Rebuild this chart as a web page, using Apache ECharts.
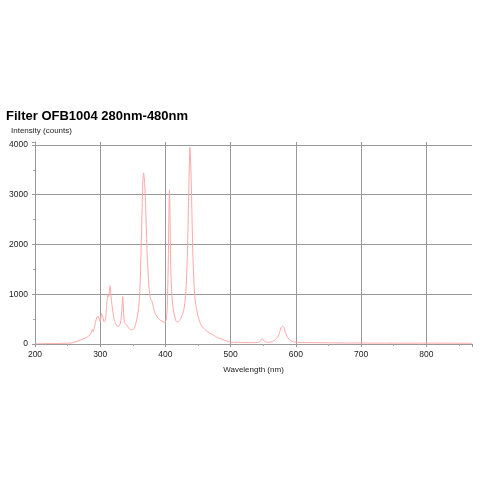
<!DOCTYPE html>
<html>
<head>
<meta charset="utf-8">
<script src="https://cdn.jsdelivr.net/npm/echarts@6/dist/echarts.min.js"></script>
<style>html,body{margin:0;padding:0;background:#fff}#c{width:480px;height:480px}</style>
</head>
<body>
<div id="c"></div>
<script>
const titleText = "Filter OFB1004 280nm-480nm";
const yAxisName = "Intensity (counts)";
const xAxisName = "Wavelength (nm)";
const xTicks = [200, 300, 400, 500, 600, 700, 800];
const yTicks = [0, 1000, 2000, 3000, 4000];
const wavelengths = [200,210,220,230,240,250,255,260,265,270,275,280,284,286,288,289,291,293,295,297,299,300,302,304,306,308,310,312,313,315,317,319,321,323,325,327,329,331,333,334.5,336,337,339,341,343,345,348,351,353,355,357,359,361,362.5,364,365.5,366.5,367.5,369,370.5,372,374,376,378,379.5,381,384,388,392,396,399.5,401.5,403,404.5,405.5,406.2,407,408,409.5,411,413,416,419,422,425,428,430,432,434,435.8,437.5,439,440.5,442,443.5,445,447,450,453,456,460,464,468,472,477,482,487,492,497,502,510,520,530,540,545,548,550,553,558,563,568,572,575,577,579.5,581.5,584,587,591,596,605,620,640,660,680,700,720,740,760,780,800,820,840,860,870];
const intensities = [5,5,8,10,12,15,20,35,55,80,110,140,180,230,290,250,330,450,540,560,470,450,610,540,440,480,800,1000,950,1170,900,680,520,430,380,350,360,420,650,950,600,430,400,380,330,300,285,295,340,440,560,720,1150,1800,2600,3300,3440,3350,3000,2400,1800,1300,980,880,860,760,620,530,480,450,430,520,800,1800,2800,3100,2600,1600,1050,800,620,470,440,480,560,680,850,1200,2000,3100,3950,3500,2700,1800,1300,950,750,560,430,350,300,250,220,190,150,120,95,70,45,35,32,30,28,30,50,110,80,40,35,45,80,140,230,320,360,340,230,130,80,45,30,28,25,22,20,20,18,18,17,17,18,17,16,15,15];

const seriesData = wavelengths.map((w, i) => [w, intensities[i]]);
const chart = echarts.init(document.getElementById('c'), null, {renderer: 'canvas'});
const font = '"Liberation Sans", Arial, Helvetica, sans-serif';
chart.setOption({
  animation: false,
  backgroundColor: '#ffffff',
  title: {
    text: titleText, left: 1, top: 105,
    textStyle: {fontFamily: font, fontSize: 13, fontWeight: 'bold', color: '#000'}
  },
  grid: {left: 35, right: 8, top: 142, bottom: 136, containLabel: false, outerBoundsMode: 'none'},
  xAxis: {
    type: 'value', min: xTicks[0], max: 870, interval: 100,
    name: xAxisName, nameLocation: 'middle', nameGap: 22,
    nameTextStyle: {fontFamily: font, fontSize: 8, color: '#222'},
    axisLine: {show: true, lineStyle: {color: '#999', width: 1}},
    axisTick: {show: true, length: 3, lineStyle: {color: '#999'}},
    minorTick: {show: true, splitNumber: 2, length: 2, lineStyle: {color: '#aaa'}},
    axisLabel: {fontFamily: font, fontSize: 8.5, color: '#222', margin: 6, showMaxLabel: false,
      formatter: v => xTicks.includes(v) ? String(v) : ''},
    splitLine: {show: true, showMinLine: true, showMaxLine: false, lineStyle: {color: '#999', width: 1}}
  },
  yAxis: {
    type: 'value', min: yTicks[0], max: 4060, interval: 1000,
    name: yAxisName, nameLocation: 'end', nameGap: 7,
    nameTextStyle: {fontFamily: font, fontSize: 8, color: '#222', align: 'left', padding: [0, 0, 0, -24]},
    axisLine: {show: true, lineStyle: {color: '#999', width: 1}},
    axisTick: {show: true, length: 3, lineStyle: {color: '#999'}},
    minorTick: {show: true, splitNumber: 2, length: 2, lineStyle: {color: '#aaa'}},
    axisLabel: {fontFamily: font, fontSize: 8.5, color: '#222', margin: 7, showMaxLabel: false,
      formatter: v => yTicks.includes(v) ? String(v) : ''},
    splitLine: {show: true, showMinLine: true, showMaxLine: false, lineStyle: {color: '#999', width: 1}}
  },
  series: [{
    type: 'line', data: seriesData, showSymbol: false, symbol: 'none',
    smooth: 0.2,
    lineStyle: {color: '#ffa6a6', width: 1}
  }]
});
</script>
</body>
</html>
